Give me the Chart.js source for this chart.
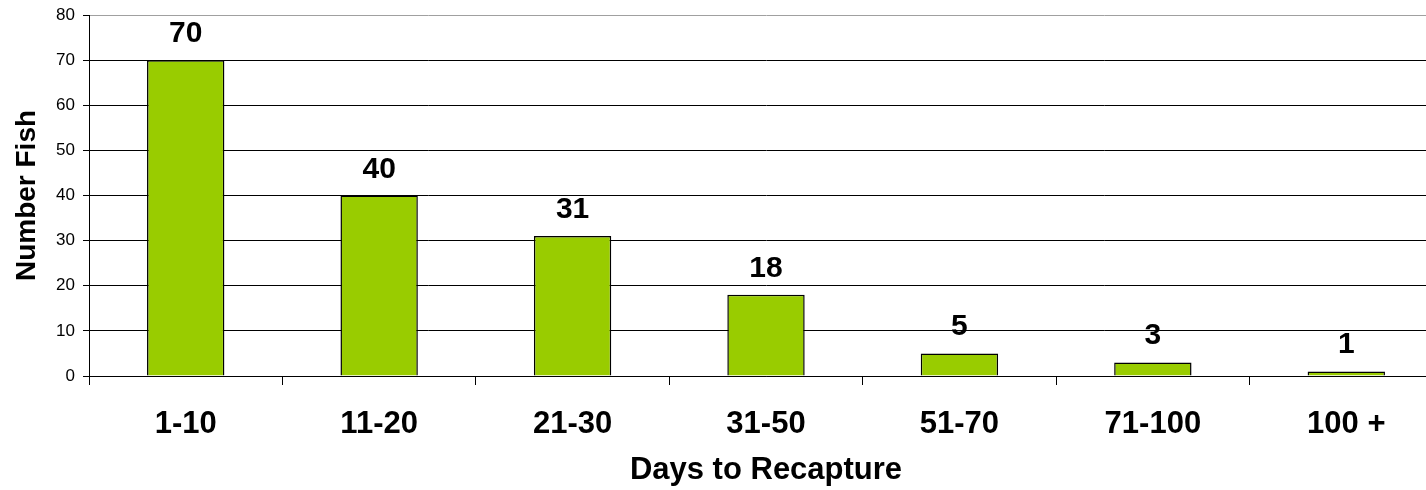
<!DOCTYPE html>
<html>
<head>
<meta charset="utf-8">
<script src="https://cdn.jsdelivr.net/npm/chart.js@4"></script>
<style>
    html, body { margin: 0; padding: 0; background: #ffffff; overflow: hidden; }
    #clip { width: 1426px; height: 490px; overflow: hidden; }
    /* the plot runs a little past the right edge in the original */
    #wrap { width: 1443px; height: 490px; position: relative; }
</style>
</head>
<body>
<div id="clip"><div id="wrap"><canvas id="recaptureChart"></canvas></div></div>
<script>
const categories = ["1-10", "11-20", "21-30", "31-50", "51-70", "71-100", "100 +"];
const fishCounts = [70, 40, 31, 18, 5, 3, 1];
const yTicks = [0, 10, 20, 30, 40, 50, 60, 70, 80];

const fontFamily = "'Liberation Sans', Arial, sans-serif";

const barLabels = {
    id: "barLabels",
    afterDatasetsDraw(chart) {
        const { ctx } = chart;
        const meta = chart.getDatasetMeta(0);
        ctx.save();
        ctx.font = `bold 30px ${fontFamily}`;
        ctx.fillStyle = "#000000";
        ctx.textAlign = "center";
        ctx.textBaseline = "alphabetic";
        meta.data.forEach((bar, index) => {
            ctx.fillText(String(fishCounts[index]), bar.x, bar.y - 18);
        });
        ctx.restore();
    }
};

document.addEventListener("DOMContentLoaded", () => {
    const canvas = document.getElementById("recaptureChart");

    new Chart(canvas.getContext("2d"), {
        type: "bar",
        data: {
            labels: categories,
            datasets: [{
                label: "Number Fish",
                data: fishCounts,
                backgroundColor: "#99cc00",
                borderColor: "#000000",
                borderWidth: 1.5,
                borderSkipped: "start",
                categoryPercentage: 1,
                barPercentage: 0.4
            }]
        },
        options: {
            responsive: true,
            maintainAspectRatio: false,
            animation: false,
            layout: {
                padding: { top: 15, right: 0, bottom: 0, left: 0 }
            },
            plugins: {
                legend: { display: false },
                tooltip: { enabled: false }
            },
            scales: {
                x: {
                    afterFit(scale) {
                        scale.height = 114;
                        scale.paddingLeft = 0;
                        scale.paddingRight = 0;
                    },
                    border: { color: "#000000", width: 1 },
                    grid: {
                        display: true,
                        drawOnChartArea: false,
                        drawTicks: true,
                        tickLength: 9,
                        tickColor: "#000000",
                        offset: true
                    },
                    ticks: {
                        color: "#000000",
                        padding: 21,
                        maxRotation: 0,
                        font: { family: fontFamily, size: 31, weight: "bold" }
                    },
                    title: {
                        display: true,
                        text: "Days to Recapture",
                        color: "#000000",
                        padding: { top: 0, bottom: 1 },
                        font: { family: fontFamily, size: 31, weight: "bold" }
                    }
                },
                y: {
                    min: 0,
                    max: 80,
                    afterFit(scale) {
                        scale.width = 89;
                        scale.paddingTop = 0;
                        scale.paddingBottom = 0;
                    },
                    afterBuildTicks(scale) {
                        scale.ticks = yTicks.map((value) => ({ value }));
                    },
                    border: { color: "#000000", width: 1 },
                    grid: {
                        color: (context) => (context.tick && context.tick.value === 80 ? "#a0a0a0" : "#000000"),
                        tickColor: "#000000",
                        tickLength: 6,
                        lineWidth: 1
                    },
                    ticks: {
                        color: "#000000",
                        padding: 8,
                        font: { family: fontFamily, size: 17 }
                    },
                    title: {
                        display: true,
                        text: "Number Fish",
                        color: "#000000",
                        padding: { top: 10, bottom: 0 },
                        font: { family: fontFamily, size: 28, weight: "bold" }
                    }
                }
            }
        },
        plugins: [barLabels]
    });
});
</script>
</body>
</html>
